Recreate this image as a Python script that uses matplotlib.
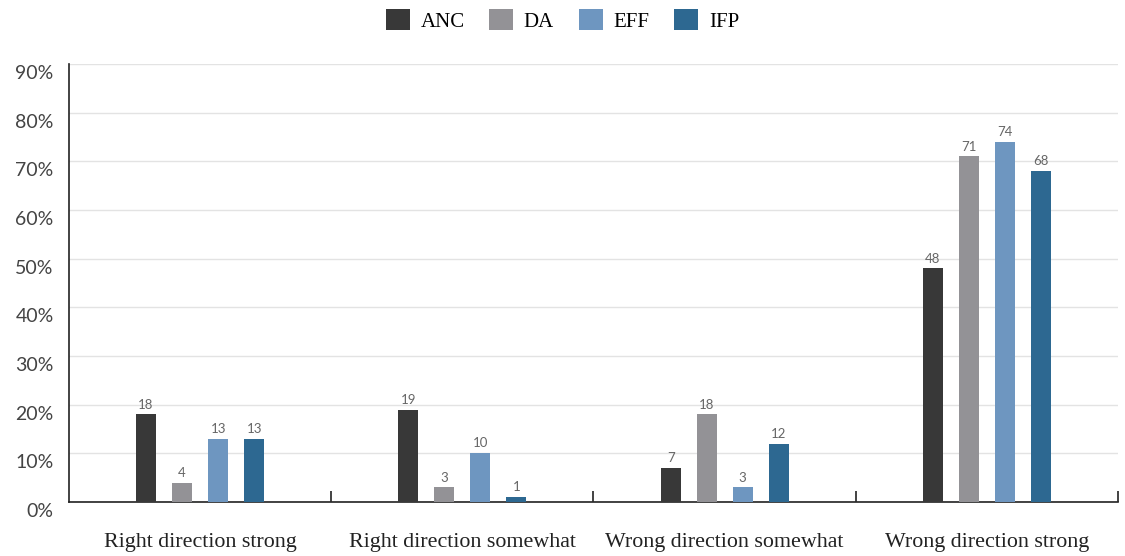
import numpy as np
import matplotlib.pyplot as plt
import matplotlib.transforms as mtransforms
from matplotlib.patches import Patch

categories = ["Right direction strong", "Right direction somewhat",
              "Wrong direction somewhat", "Wrong direction strong"]
series = ["ANC", "DA", "EFF", "IFP"]
values = {
    "ANC": [18, 19, 7, 48],
    "DA": [4, 3, 18, 71],
    "EFF": [13, 10, 3, 74],
    "IFP": [13, 1, 12, 68],
}
colors = ["#383838", "#939296", "#6e96c0", "#2d6891"]

fig = plt.figure(figsize=(11.25, 5.56), dpi=100)
ax = fig.add_axes([0.0613, 0.0971, 0.9325, 0.7878])

x = np.arange(len(categories))
step = 36 / 262
width = 20 / 262
for i, (name, col) in enumerate(zip(series, colors)):
    xs = x + (i - 1.5) * step
    ax.bar(xs, values[name], width=width, color=col, zorder=3)
    for xi, v in zip(xs, values[name]):
        ax.text(xi, v + 0.8, str(v), ha="center", va="bottom",
                fontsize=9.5, color="#666666", family="Lato")

ax.set_xlim(-0.5, 3.5)
ax.set_ylim(0, 90)
ax.set_yticks(np.arange(0, 91, 10))
ax.set_yticklabels([f"{t}%" for t in range(0, 91, 10)], fontsize=14,
                   color="#444444", family="Lato")
ax.tick_params(axis="y", length=0, pad=11)
off = mtransforms.ScaledTranslation(0, -8 / 100, fig.dpi_scale_trans)
for lab in ax.get_yticklabels():
    lab.set_transform(lab.get_transform() + off)

ax.set_xticks(x + 0.5)
ax.set_xticklabels([])
ax.tick_params(axis="x", which="major", direction="in", length=8, width=1.2, color="#222222")
ax.set_xticks(x, minor=True)
ax.set_xticklabels(categories, minor=True, fontsize=15.8, family="Liberation Serif", color="#222222")
ax.tick_params(axis="x", which="minor", length=0, pad=22)

ax.grid(axis="y", color="#e3e3e3", linewidth=1, zorder=0)
for s in ["top", "right"]:
    ax.spines[s].set_visible(False)
ax.spines["left"].set_color("#222222")
ax.spines["bottom"].set_color("#222222")
ax.spines["left"].set_linewidth(1.2)
ax.spines["bottom"].set_linewidth(1.2)

handles = [Patch(facecolor=c, label=n) for n, c in zip(series, colors)]
fig.legend(handles=handles, loc="center", bbox_to_anchor=(0.5, 0.963), ncol=4,
           frameon=False, prop={"family": "Liberation Serif", "size": 15},
           handlelength=1.15, handleheight=1.15, handletextpad=0.5, columnspacing=1.2)

fig.savefig("out.png", dpi=100)
